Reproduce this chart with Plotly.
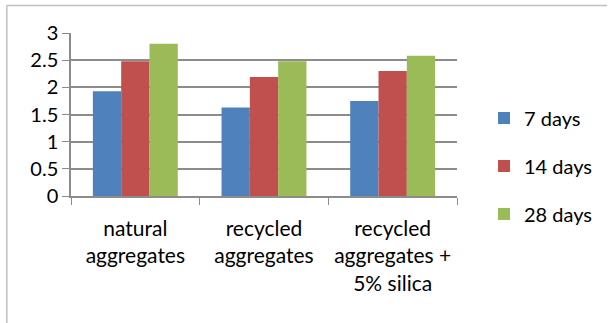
import plotly.graph_objects as go

categories = ["natural<br>aggregates", "recycled<br>aggregates", "recycled<br>aggregates +<br>5% silica"]
series_names = ["7 days", "14 days", "28 days"]
values_7 = [1.93, 1.63, 1.75]
values_14 = [2.48, 2.19, 2.30]
values_28 = [2.80, 2.48, 2.58]
colors = ["#4F81BD", "#C0504D", "#9BBB59"]
y_ticks = [0, 0.5, 1, 1.5, 2, 2.5, 3]

W, H = 610, 323
L, R, T, B = 71, 148, 33, 127
pw = W - L - R
ph = H - T - B

fig = go.Figure()
for i, (name, vals) in enumerate(zip(series_names, [values_7, values_14, values_28])):
    fig.add_trace(go.Bar(x=categories, y=vals, name=name, marker_color=colors[i],
                         marker_line_width=0, legendgroup=name))

fig.update_layout(
    width=W, height=H,
    margin=dict(l=L, r=R, t=T, b=B),
    paper_bgcolor="white", plot_bgcolor="white",
    barmode="group", bargap=0.34, bargroupgap=0,
    font=dict(family="Lato, Liberation Sans, Arial, sans-serif", color="#000000"),
    legend=dict(x=1.07, y=(H - B - 166) / ph, xanchor="left", yanchor="middle",
                font=dict(size=20), tracegroupgap=19, traceorder="grouped",
                itemwidth=30),
    showlegend=True,
)
fig.update_yaxes(range=[0, 3], tickvals=y_ticks, ticktext=[f"{v:g}" for v in y_ticks],
                 showgrid=True, gridcolor="#8C8C8C", gridwidth=1.5,
                 showline=True, linecolor="#8C8C8C", linewidth=1.5,
                 ticks="outside", ticklen=7, tickcolor="#8C8C8C",
                 tickfont=dict(size=20), zeroline=False)
fig.update_xaxes(showline=True, linecolor="#8C8C8C", linewidth=1.5,
                 ticks="outside", tickson="boundaries", ticklen=7, tickcolor="#8C8C8C",
                 tickfont=dict(size=21), showgrid=False, ticklabelstandoff=13)

# outer chart frame (top and left edges visible)
fig.add_shape(type="line", xref="paper", yref="paper",
              x0=(6 - L) / pw, x1=(W - L) / pw + 0.01, y0=(H - B - 5.5) / ph, y1=(H - B - 5.5) / ph,
              line=dict(color="#BFBFBF", width=1.5))
fig.add_shape(type="line", xref="paper", yref="paper",
              x0=(6 - L) / pw, x1=(6 - L) / pw, y0=(H - B - 5.5) / ph, y1=(H - B - H) / ph - 0.01,
              line=dict(color="#BFBFBF", width=1.5))

fig.write_html("out.html")
